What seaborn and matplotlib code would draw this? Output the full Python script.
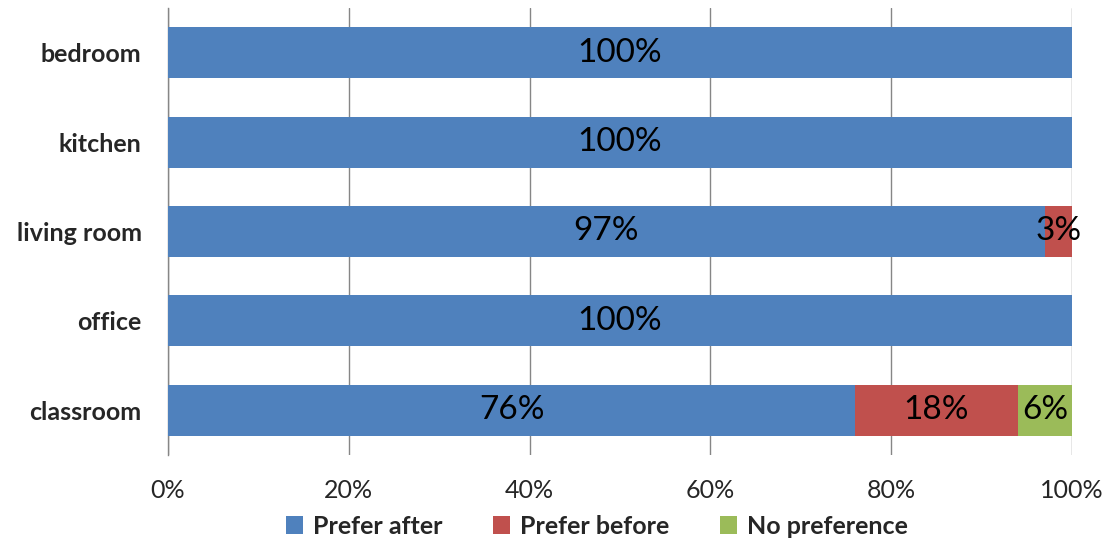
import numpy as np
import pandas as pd
import matplotlib
matplotlib.use("Agg")
import matplotlib.pyplot as plt
import seaborn as sns
from matplotlib.patches import Patch

categories = ["bedroom", "kitchen", "living room", "office", "classroom"]
prefer_after = [100, 100, 97, 100, 76]
prefer_before = [0, 0, 3, 0, 18]
no_preference = [0, 0, 0, 0, 6]
series_names = ["Prefer after", "Prefer before", "No preference"]
series_colors = ["#4F81BD", "#C0504D", "#9BBB59"]
xticks = [0, 20, 40, 60, 80, 100]

sns.set_style("white")
plt.rcParams["font.family"] = ["Lato", "DejaVu Sans"]

fig = plt.figure(figsize=(11.10, 5.41), dpi=100)
ax = fig.add_axes([168 / 1110, 1 - 455 / 541, (1072 - 168) / 1110, (455 - 8) / 541])

series = [prefer_after, prefer_before, no_preference]
cum = np.cumsum(np.array(series, dtype=float), axis=0)

# stacked bars: draw running totals from the outermost segment inward
for i in range(len(series) - 1, -1, -1):
    df = pd.DataFrame({"category": categories, "value": cum[i]})
    sns.barplot(data=df, x="value", y="category", orient="h", color=series_colors[i],
                saturation=1, width=0.57, ax=ax, zorder=3, edgecolor="none")

# value labels centered in each segment
for i, vals in enumerate(series):
    for j, v in enumerate(vals):
        if v <= 0:
            continue
        center = cum[i][j] - v / 2
        ax.text(center, j, f"{v}%", ha="center", va="center", fontsize=24,
                color="black", zorder=5)

ax.set_xlim(0, 100)
ax.set_ylim(4.5, -0.5)
ax.set_xticks(xticks)
ax.set_xticklabels([f"{t}%" for t in xticks], fontsize=18)
ax.tick_params(axis="x", length=0, pad=17)
ax.tick_params(axis="y", length=0, pad=19)
for lbl in ax.get_yticklabels():
    lbl.set_fontweight("bold")
    lbl.set_fontsize(18)
ax.set_xlabel("")
ax.set_ylabel("")
ax.grid(axis="x", color="#868686", linewidth=1, zorder=0)
ax.grid(axis="y", visible=False)
for s in ["top", "right", "bottom"]:
    ax.spines[s].set_visible(False)
ax.spines["left"].set_color("#868686")
ax.spines["left"].set_linewidth(1)

handles = [Patch(facecolor=c, edgecolor="none") for c in series_colors]
leg = fig.legend(handles, series_names, loc="center", bbox_to_anchor=(597 / 1110, 1 - 526 / 541),
                 ncol=3, frameon=False, handlelength=0.7, handleheight=0.7,
                 handletextpad=0.4, columnspacing=2.0,
                 prop={"weight": "bold", "size": 18})

fig.savefig("out.png", dpi=100)
